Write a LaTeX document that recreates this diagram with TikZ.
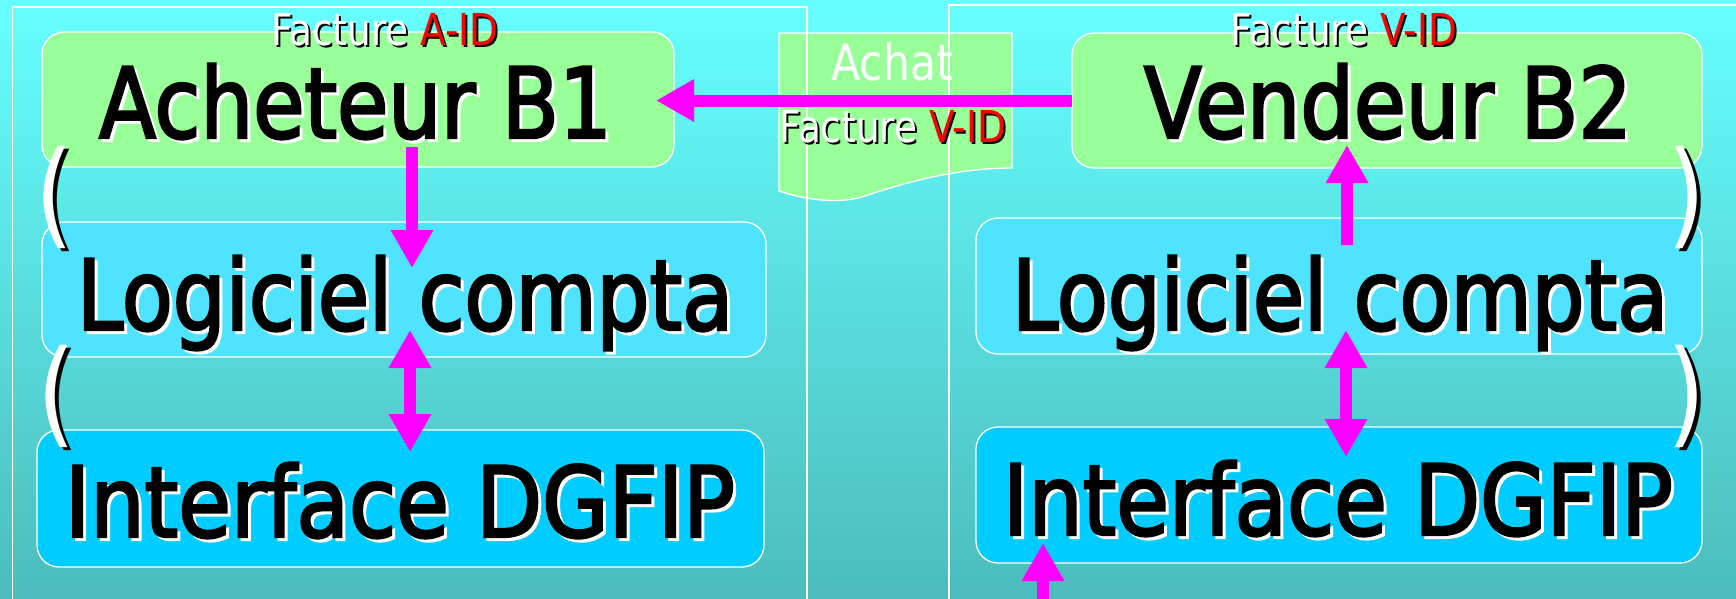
\documentclass[tikz,border=0pt]{standalone}
\usepackage{fontspec}
\newfontfamily\tah{DejaVu Sans}[FakeStretch=0.85]
\newfontfamily\tahB{DejaVu Sans}[FakeStretch=0.85,FakeBold=2.5]
\newfontfamily\tahI{DejaVu Sans}[FakeStretch=0.875,FakeBold=2.5]
\newfontfamily\tahV{DejaVu Sans}[FakeStretch=0.86,FakeBold=2.5]
\usetikzlibrary{arrows.meta}
\definecolor{bgtop}{HTML}{66FFFF}
\definecolor{bgbot}{HTML}{4CBCBC}
\definecolor{boxgreen}{HTML}{99FF99}
\definecolor{boxlight}{HTML}{50E3FF}
\definecolor{boxdeep}{HTML}{00CCFF}
\definecolor{arrmag}{HTML}{FF00FF}
\definecolor{idred}{HTML}{FF0000}
\begin{document}
\begin{tikzpicture}[x=1pt,y=-1pt,
  box/.style={draw=white, line width=1.3pt, rounded corners=22pt, inner sep=0pt, outer sep=0pt},
  frame/.style={draw=white, line width=1.3pt},
  arr/.style={draw=arrmag, line width=12pt, -{Triangle[length=38pt,width=40pt]}},
  darr/.style={draw=arrmag, line width=12pt, {Triangle[length=38pt,width=40pt]}-{Triangle[length=38pt,width=40pt]}},
  big/.style={font=\tahB\fontsize{98}{98}\selectfont, inner sep=0pt, anchor=base},
  bigI/.style={font=\tahI\fontsize{98}{98}\selectfont, inner sep=0pt, anchor=base},
  bigV/.style={font=\tahV\fontsize{98}{98}\selectfont, inner sep=0pt, anchor=base},
  lbl/.style={font=\tah\fontsize{44}{44}\selectfont, inner sep=0pt, anchor=base},
  achatlbl/.style={font=\tah\fontsize{50}{50}\selectfont, inner sep=0pt, anchor=base},
  parlbl/.style={font=\tah\fontsize{115}{115}\selectfont, inner sep=0pt, anchor=base},
]
\useasboundingbox (0,0) rectangle (1736,598);
\clip (0,0) rectangle (1736,598);
\shade[top color=bgtop, bottom color=bgbot] (0,0) rectangle (1736,598);

% document shape
\draw[frame, fill=boxgreen] (779,33) -- (1012,33) -- (1012,168)
  .. controls (950,168) and (895,186) .. (862,197)
  .. controls (845,202) and (815,203) .. (779,191) -- cycle;

% frames
\draw[frame] (12.7,640) -- (12.7,7) -- (807,7) -- (807,640);
\draw[frame] (949,640) -- (949,5) -- (1760,5);

% boxes
\node[box, fill=boxgreen, minimum width=632pt, minimum height=135pt] (ach) at (358,99.5) {};
\node[box, fill=boxlight, minimum width=724pt, minimum height=135pt] (logL) at (404,289.5) {};
\node[box, fill=boxdeep, minimum width=727pt, minimum height=137pt] (intL) at (400.5,498.5) {};
\node[box, fill=boxgreen, minimum width=630pt, minimum height=135pt] (ven) at (1387,100.5) {};
\node[box, fill=boxlight, minimum width=726pt, minimum height=136pt] (logR) at (1339,286) {};
\node[box, fill=boxdeep, minimum width=726pt, minimum height=136pt] (intR) at (1339,495) {};

% big texts
\node[big, text=white] (achTs) at (358.5,141) {Acheteur B1};
\node[big, text=black] (achT) at (355.5,138) {Acheteur B1};
\node[big, text=white] (logLTs) at (408,333) {Logiciel compta};
\node[big, text=black] (logLT) at (405,330) {Logiciel compta};
\node[bigI, text=white] (intLTs) at (403,540) {Interface DGFIP};
\node[bigI, text=black] (intLT) at (400,537) {Interface DGFIP};
\node[bigV, text=white] (venTs) at (1391,141) {Vendeur B2};
\node[bigV, text=black] (venT) at (1388,138) {Vendeur B2};
\node[big, text=white] (logRTs) at (1343,333) {Logiciel compta};
\node[big, text=black] (logRT) at (1340,330) {Logiciel compta};
\node[bigI, text=white] (intRTs) at (1341,538) {Interface DGFIP};
\node[bigI, text=black] (intRT) at (1338,535) {Interface DGFIP};

% parentheses
\node[parlbl, text=black] (p1s) at (59,236) {(};
\node[parlbl, text=white] (p1) at (55,233) {(};
\node[parlbl, text=black] (p2s) at (61,435) {(};
\node[parlbl, text=white] (p2) at (57,432) {(};
\node[parlbl, text=black] (p3s) at (1691,236) {)};
\node[parlbl, text=white] (p3) at (1687,233) {)};
\node[parlbl, text=black] (p4s) at (1691,435) {)};
\node[parlbl, text=white] (p4) at (1687,432) {)};

% labels
\node[lbl, text=black] (facAs) at (387,47) {Facture A-ID};
\node[lbl, text=white] (facA) at (385,45) {Facture \textcolor{idred}{A-ID}};
\node[lbl, text=black] (facVs) at (1346,47) {Facture V-ID};
\node[lbl, text=white] (facV) at (1344,45) {Facture \textcolor{idred}{V-ID}};
\node[achatlbl, text=white] (achat) at (892,80) {Achat};
\node[lbl, text=black] (facDs) at (895,144) {Facture V-ID};
\node[lbl, text=white] (facD) at (893,142) {Facture \textcolor{idred}{V-ID}};

% arrows
\coordinate (tipH) at (656,100.5);
\draw[arr] (ven.west) -- (tipH);
\coordinate (aDs) at (412,147);
\coordinate (aDe) at (412,268);
\draw[arr] (aDs) -- (aDe);
\coordinate (dLs) at (410,330);
\coordinate (dLe) at (410,452);
\draw[darr] (dLs) -- (dLe);
\coordinate (aUs) at (1347,245);
\coordinate (aUe) at (1347,145);
\draw[arr] (aUs) -- (aUe);
\coordinate (dRs) at (1346,330);
\coordinate (dRe) at (1346,457);
\draw[darr] (dRs) -- (dRe);
\coordinate (aBs) at (1043,640);
\coordinate (aBe) at (1043,543);
\draw[arr] (aBs) -- (aBe);
\end{tikzpicture}
\end{document}
